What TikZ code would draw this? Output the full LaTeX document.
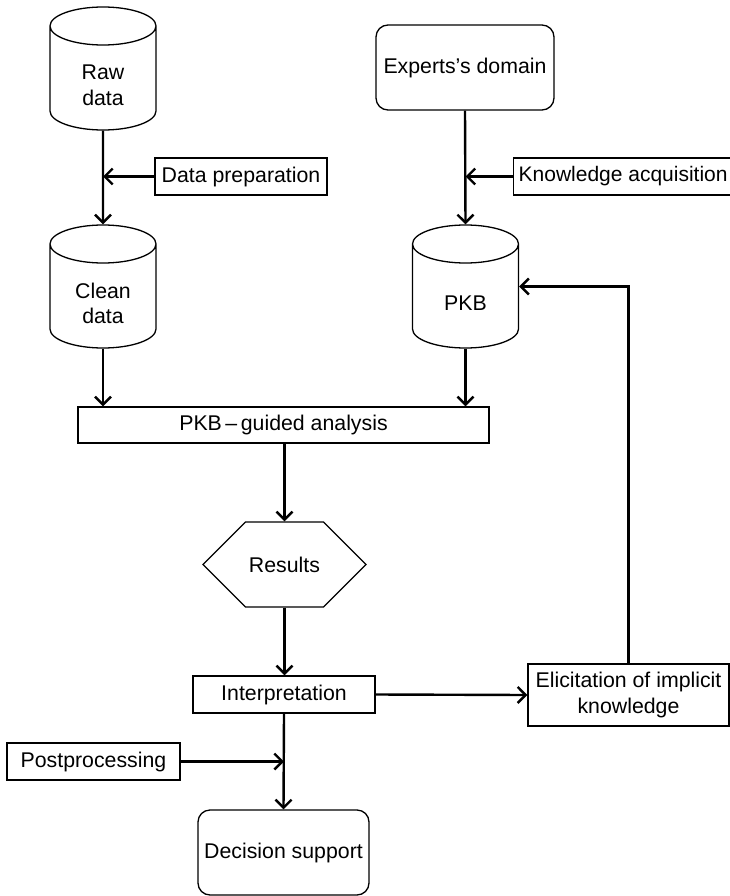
\documentclass[tikz,border=0pt]{standalone}
\usepackage{fontspec}
\setmainfont{Liberation Sans}
\usetikzlibrary{arrows.meta, shapes.geometric, shapes.symbols}

\begin{document}
\begin{tikzpicture}[
  x=1pt, y=-1pt,
  every node/.style = {font=\fontsize{21.3}{25.5}\selectfont, line width=1.3pt},
  box/.style    = {rectangle, draw, align=center, inner sep=0pt,
                   minimum width=#1, minimum height=37pt},
  rbox/.style   = {rectangle, rounded corners=12pt, draw, align=center,
                   inner sep=0pt, minimum width=#1, minimum height=85pt},
  db/.style     = {cylinder, shape border rotate=90, draw, anchor=shape center,
                   aspect=0.38, inner sep=0pt, text width=100pt,
                   minimum width=106pt, minimum height=123pt,
                   label={[align=center, yshift=-7pt]center:#1}},
  hexa/.style   = {signal, signal to=east and west, draw, inner sep=0pt,
                   minimum width=163pt, minimum height=85pt},
  arr/.style    = {-{Straight Barb[length=8pt, width=16pt, line width=2.4pt]},
                   line width=2.4pt},
]
\useasboundingbox (0,0) rectangle (730,896);
\node[db={Raw\\data}]              (raw)     at (103,68.5)  {};
\node[box=172pt]                   (prep)    at (241,176.5) {Data preparation};
\node[db={Clean\\data}]            (clean)   at (103,286.5) {};
\node[rbox=178pt]                  (experts) at (465,67.5)  {Experts's domain};
\node[box=219pt, anchor=west, font=\fontsize{21}{25}\selectfont]
                                   (acq)     at (513,176.5) {Knowledge acquisition};
\node[db={PKB}]                    (pkb)     at (465.5,286.5) {};
\node[box=411pt, minimum height=36pt] (analysis) at (283.5,425) {PKB\,--\,guided analysis};
\node[hexa]                        (results) at (284.5,564.5) {Results};
\node[box=182pt]                   (interp)  at (284,694.5) {Interpretation};
\node[box=201pt, minimum height=62pt] (elicit) at (628.5,695) {Elicitation of implicit\\knowledge};
\node[box=173pt]                   (post)    at (93.5,761.5) {Postprocessing};
\node[rbox=171pt]                  (decision) at (283.5,852.5) {Decision support};
\draw[arr] (raw.south) -- (clean.north);
\draw[arr] (prep.west) -- (prep.west -| raw.south);
\draw[arr] (experts.south) -- (pkb.north);
\draw[arr] (acq.west) -- (acq.west -| pkb.north);
\draw[arr] (clean.south) -- (clean.south |- analysis.north);
\draw[arr] (pkb.south) -- (pkb.south |- analysis.north);
\draw[arr] (results.north |- analysis.south) -- (results.north);
\draw[arr] (results.south) -- (results.south |- interp.north);
\draw[arr] (interp.east) -- (elicit.west);
\draw[arr] (elicit.north) |- (pkb.east |- pkb.shape center);
\draw[arr] (interp.south) -- (decision.north);
\draw[arr] (post.east) -- (post.east -| interp.south);
\end{tikzpicture}
\end{document}
